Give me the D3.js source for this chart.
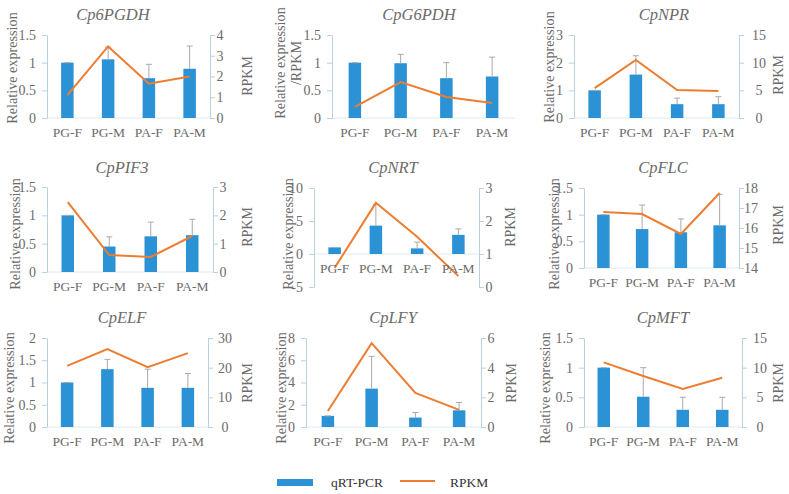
<!DOCTYPE html>
<html><head><meta charset="utf-8">
<script src="https://cdn.jsdelivr.net/npm/d3@7"></script>
<style>body{margin:0;background:#fff}svg{display:block}</style>
</head><body>
<svg id="c" width="789" height="494"></svg>
<script>
const genes = ["Cp6PGDH","CpG6PDH","CpNPR","CpPIF3","CpNRT","CpFLC","CpELF","CpLFY","CpMFT"];
const categories = ["PG-F","PG-M","PA-F","PA-M"];
const qpcr = [
  [1.0,1.06,0.72,0.89],
  [1.0,0.99,0.72,0.75],
  [1.0,1.57,0.5,0.5],
  [1.0,0.45,0.63,0.65],
  [1.0,4.3,0.85,2.9],
  [1.0,0.73,0.67,0.8],
  [1.0,1.3,0.88,0.88],
  [1.0,3.45,0.85,1.5],
  [1.0,0.51,0.29,0.29]];
const errTop = [
  [1.0,1.28,0.97,1.3],
  [1.0,1.15,1.0,1.1],
  [1.0,2.25,0.72,0.77],
  [1.0,0.62,0.88,0.93],
  [1.0,7.5,1.8,3.8],
  [1.0,1.18,0.92,1.38],
  [1.0,1.52,1.3,1.2],
  [1.0,6.35,1.3,2.2],
  [1.0,1.0,0.5,0.5]];
const rpkm = [
  [1.1,3.45,1.65,2.0],
  [0.2,0.65,0.38,0.27],
  [5.4,10.5,5.05,4.9],
  [2.47,0.6,0.53,1.27],
  [0.58,2.55,1.52,0.33],
  [16.8,16.7,15.7,17.75],
  [20.6,26.3,20.2,24.9],
  [1.08,5.65,2.3,1.15],
  [10.9,8.6,6.4,8.3]];
const leftTicks = [
  [0,0.5,1,1.5],[0,0.5,1,1.5],[0,1,2,3],[0,0.5,1,1.5],[-5,0,5,10],
  [0,0.5,1,1.5],[0,0.5,1,1.5,2],[0,2,4,6,8],[0,0.5,1,1.5]];
const rightTicks = [
  [0,1,2,3,4],null,[0,5,10,15],[0,1,2,3],[0,1,2,3],
  [14,15,16,17,18],[0,10,20,30],[0,2,4,6],[0,5,10,15]];
const legendLabels = ["qRT-PCR","RPKM"];

// layout (positions only)
const layout = [
  {L:47,R:210,T:35,B:118,tx:113,ty:20,lx:12,ly:68,rx:247,ry:76,ro:10},
  {L:332,R:515,T:35,B:118,tx:419,ty:20,lx:280,ly:63,rx:null,ry:0,ro:0},
  {L:574,R:739,T:35,B:118,tx:664,ty:20,lx:549,ly:67,rx:778,ry:75,ro:20},
  {L:47,R:213,T:187,B:272,tx:122,ty:173,lx:15,ly:234,rx:247,ry:227,ro:10},
  {L:314,R:479,T:188,B:287,tx:393,ty:173,lx:288,ly:234,rx:510,ry:227,ro:10},
  {L:584,R:739,T:188,B:268,tx:663,ty:173,lx:554,ly:234,rx:778,ry:225,ro:12},
  {L:47,R:208,T:338,B:427,tx:122,ty:323,lx:9,ly:388,rx:247,ry:383,ro:17},
  {L:306,R:481,T:338,B:427,tx:393,ty:323,lx:281,ly:388,rx:511,ry:383,ro:10},
  {L:584,R:742,T:338,B:427,tx:663,ty:323,lx:545,ly:388,rx:778,ry:383,ro:18}];

const FONT = "Liberation Serif";
const TXT = "#6b6b6b", AX = "#b7d3df", BLUE = "#2b92d6", ORANGE = "#ed7d31", ERR = "#a9a9a9";
const svg = d3.select("#c").attr("font-family", FONT);

function txt(sel, size) { return sel.attr("font-family", FONT).attr("fill", TXT).attr("font-size", size || 13); }

genes.forEach((g, i) => {
  const p = layout[i];
  const gp = svg.append("g");
  const x = d3.scaleBand().domain(categories).range([p.L, p.R]).paddingInner(0).paddingOuter(0);
  const yL = d3.scaleLinear().domain(d3.extent(leftTicks[i])).range([p.B, p.T]);
  const yR = rightTicks[i] ? d3.scaleLinear().domain(d3.extent(rightTicks[i])).range([p.B, p.T]) : yL;
  const bw = 12.5;

  gp.append("line").attr("x1", p.L).attr("x2", p.R).attr("y1", yL(0)).attr("y2", yL(0))
    .attr("stroke", "#dde9ee").attr("stroke-width", 1);

  const la = gp.append("g").attr("transform", `translate(${p.L},0)`)
    .call(d3.axisLeft(yL).tickValues(leftTicks[i]).tickSize(5).tickSizeOuter(0).tickPadding(6).tickFormat(d => String(d)));
  la.attr("font-family", FONT).attr("font-size", 14);
  la.select(".domain").attr("stroke", AX);
  la.selectAll(".tick line").attr("stroke", AX);
  txt(la.selectAll(".tick text"), 14);

  if (rightTicks[i]) {
    const ra = gp.append("g").attr("transform", `translate(${p.R},0)`)
      .call(d3.axisRight(yR).tickValues(rightTicks[i]).tickSize(5).tickSizeOuter(0).tickFormat(d => String(d)));
    ra.attr("font-family", FONT).attr("font-size", 14);
    ra.select(".domain").attr("stroke", AX);
    ra.selectAll(".tick line").attr("stroke", AX);
    txt(ra.selectAll(".tick text"), 14).attr("text-anchor", "middle").attr("x", p.ro);
    txt(gp.append("text"), 14).attr("transform", `translate(${p.rx},${p.ry}) rotate(-90)`)
      .attr("text-anchor", "middle").attr("dominant-baseline", "central").text("RPKM");
  }

  gp.selectAll("rect.bar").data(qpcr[i]).join("rect").attr("class", "bar")
    .attr("x", (d, j) => x(categories[j]) + x.bandwidth() / 2 - bw / 2)
    .attr("width", bw)
    .attr("y", d => yL(Math.max(d, 0)))
    .attr("height", d => Math.abs(yL(d) - yL(0)))
    .attr("fill", BLUE);

  const eg = gp.append("g");
  qpcr[i].forEach((v, j) => {
    const cx = x(categories[j]) + x.bandwidth() / 2;
    const e = errTop[i][j];
    if (e > v) {
      eg.append("line").attr("x1", cx).attr("x2", cx).attr("y1", yL(v)).attr("y2", yL(e))
        .attr("stroke", ERR).attr("stroke-width", 1);
    }
    eg.append("line").attr("x1", cx - 3).attr("x2", cx + 3).attr("y1", yL(e)).attr("y2", yL(e))
      .attr("stroke", ERR).attr("stroke-width", 1);
  });

  const line = d3.line().x((d, j) => x(categories[j]) + x.bandwidth() / 2).y(d => yR(d));
  gp.append("path").datum(rpkm[i]).attr("d", line).attr("fill", "none")
    .attr("stroke", ORANGE).attr("stroke-width", 2).attr("stroke-linejoin", "miter");

  txt(gp.selectAll("text.cat").data(categories).join("text").attr("class", "cat"), 13.5)
    .attr("x", d => x(d) + x.bandwidth() / 2).attr("y", yL(0) + 19)
    .attr("text-anchor", "middle").text(d => d);

  txt(gp.append("text"), 16.5).attr("x", p.tx).attr("y", p.ty).attr("text-anchor", "middle")
    .attr("font-style", "italic").text(g);

  txt(gp.append("text"), 14.2).attr("transform", `translate(${p.lx},${p.ly}) rotate(-90)`)
    .attr("text-anchor", "middle").attr("dominant-baseline", "central").text("Relative expression");
  if (i === 1) {
    txt(gp.append("text"), 14.2).attr("transform", `translate(${p.lx + 16},${p.ly}) rotate(-90)`)
      .attr("text-anchor", "middle").attr("dominant-baseline", "central").text("/RPKM");
  }
});

const lg = svg.append("g");
lg.append("rect").attr("x", 277).attr("y", 479).attr("width", 36).attr("height", 7).attr("fill", BLUE);
lg.append("text").attr("x", 331).attr("y", 487).attr("fill", "#333").attr("font-family", FONT).attr("font-size", 13.5).text(legendLabels[0]);
lg.append("line").attr("x1", 400).attr("x2", 435).attr("y1", 481).attr("y2", 481).attr("stroke", ORANGE).attr("stroke-width", 2);
lg.append("text").attr("x", 450).attr("y", 487).attr("fill", "#333").attr("font-family", FONT).attr("font-size", 13.5).text(legendLabels[1]);
</script>
</body></html>
